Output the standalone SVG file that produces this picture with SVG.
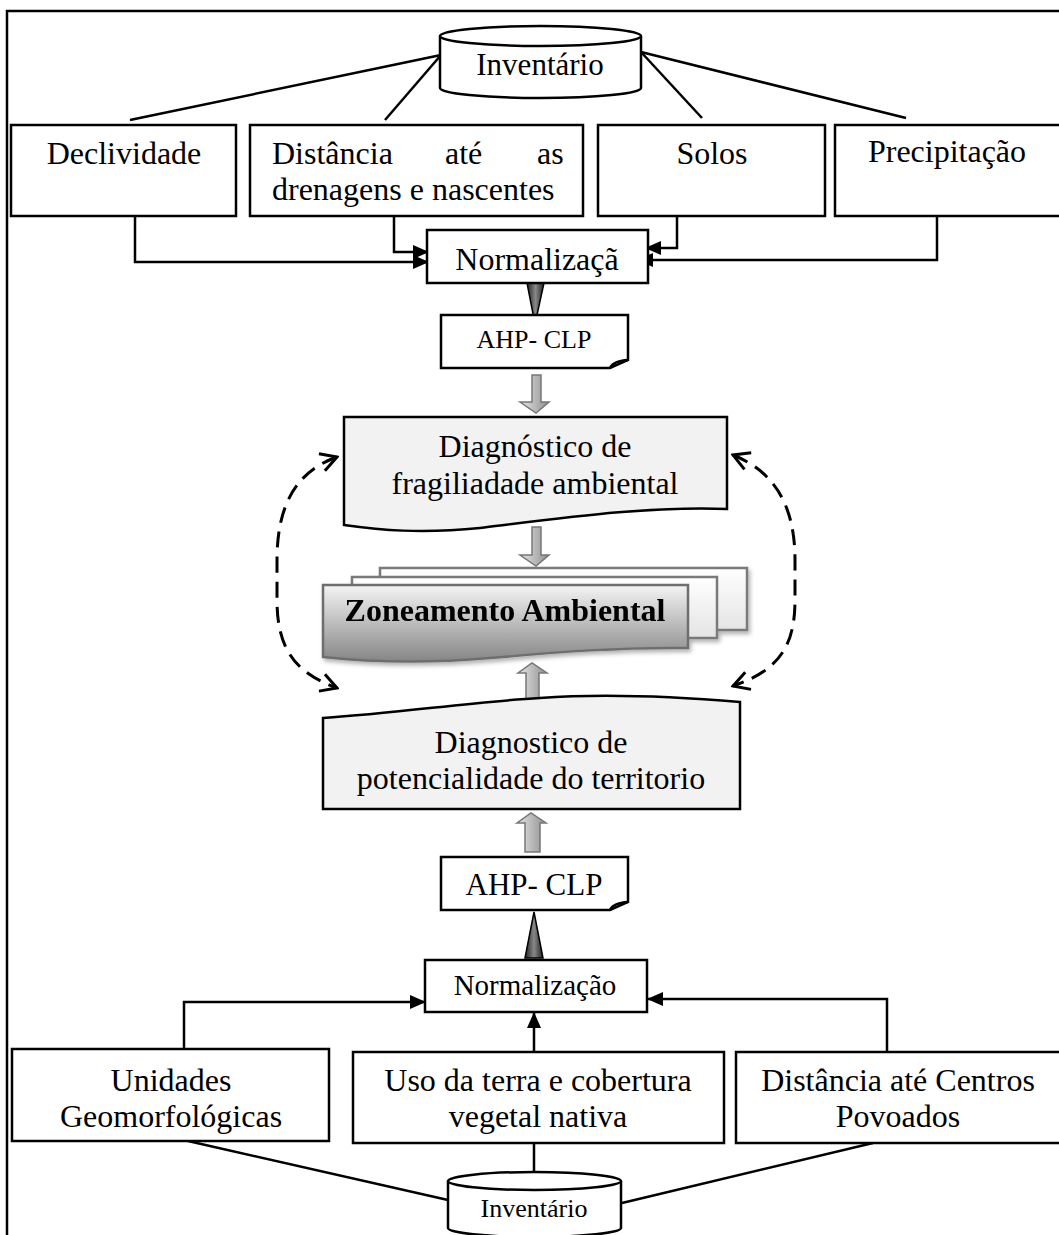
<svg xmlns="http://www.w3.org/2000/svg" width="1059" height="1235" viewBox="0 0 1059 1235">
<defs>
<style>
text{font-family:"Liberation Serif","Times New Roman",serif;fill:#000;}
.box{fill:#fff;stroke:#000;stroke-width:2.5;}
.doc{fill:#f2f2f2;stroke:#000;stroke-width:2.5;}
.ln{fill:none;stroke:#000;stroke-width:2.5;}
.con{fill:none;stroke:#000;stroke-width:2.5;marker-end:url(#arr);}
.dash{fill:none;stroke:#000;stroke-width:3;stroke-dasharray:16 9;marker-start:url(#open);marker-end:url(#open);}
.garrow{fill:url(#gGray);stroke:#777;stroke-width:1.5;}
.darrow{fill:url(#gDark);stroke:#000;stroke-width:1.5;}
.page{fill:url(#gPage);stroke:#7a7a7a;stroke-width:2.5;}
</style>
<marker id="arr" viewBox="0 0 16 14" refX="15" refY="7" markerWidth="16" markerHeight="14" markerUnits="userSpaceOnUse" orient="auto">
<path d="M0,0 L16,7 L0,14 Z" fill="#000"/>
</marker>
<marker id="open" viewBox="0 0 20 22" refX="18" refY="11" markerWidth="20" markerHeight="22" markerUnits="userSpaceOnUse" orient="auto-start-reverse">
<path d="M2,2 L18,11 L2,20" fill="none" stroke="#000" stroke-width="3"/>
</marker>
<linearGradient id="gGray" x1="0" y1="0" x2="1" y2="0">
<stop offset="0" stop-color="#e6e6e6"/><stop offset="1" stop-color="#8f8f8f"/>
</linearGradient>
<linearGradient id="gDark" x1="0" y1="0" x2="1" y2="0">
<stop offset="0" stop-color="#222"/><stop offset="0.5" stop-color="#888"/><stop offset="1" stop-color="#222"/>
</linearGradient>
<linearGradient id="gFront" x1="0" y1="0" x2="0" y2="1">
<stop offset="0" stop-color="#f4f4f4"/><stop offset="1" stop-color="#858585"/>
</linearGradient>
<linearGradient id="gPage" x1="0" y1="0" x2="0" y2="1">
<stop offset="0" stop-color="#ffffff"/><stop offset="1" stop-color="#e4e4e4"/>
</linearGradient>
<filter id="shadow" x="-5%" y="-10%" width="115%" height="130%">
<feDropShadow dx="2" dy="3" stdDeviation="2" flood-color="#000" flood-opacity="0.3"/>
</filter>
</defs>
<rect width="1059" height="1235" fill="#fff"/>
<!-- outer frame -->
<path class="ln" d="M7,1235 V11 H1062"/>

<g id="connectors">
<path class="ln" d="M441,55 L130,120"/>
<path class="ln" d="M441,55 L385,120"/>
<path class="ln" d="M641,52 L702,118"/>
<path class="ln" d="M641,52 L906,118"/>
<path class="con" d="M135,216 V262 H428"/>
<path class="con" d="M394,216 V252 H428"/>
<path class="con" d="M677,216 V248 H646"/>
<path class="con" d="M937,216 V260 H638"/>
<path class="dash" d="M337,457 C300,470 277,500 277,560 L277,600 C277,645 292,672 337,688"/>
<path class="dash" d="M733,455 C770,470 795,500 795,560 L795,600 C795,645 780,670 733,686"/>
<path class="con" d="M184,1049 V1002 H425"/>
<path class="con" d="M534,1052 V1013"/>
<path class="con" d="M887,1052 V999 H648"/>
<path class="ln" d="M188,1141 L448,1200"/>
<path class="ln" d="M534,1143 L534,1173"/>
<path class="ln" d="M873,1143 L622,1203"/>
<path class="darrow" d="M527,283 L544,283 L535,324 Z"/>
<path class="darrow" d="M525,958 L543,958 L534,912 Z"/>
<path class="garrow" d="M532,375 H541 V402 H549 L536,413 L520,402 H532 Z"/>
<path class="garrow" d="M532,527 H541 V555 H549 L536,566 L520,555 H532 Z"/>
<path class="garrow" d="M526,702 V673 H518 L532,663 L547,673 H539 V700 Z"/>
<path class="garrow" d="M525,852 V823 H517 L531,813 L546,823 H540 V852 Z"/>
</g>

<g id="inventario-top">
<path class="box" d="M440,36 V88 A100.5,10 0 0 0 641,88 V36"/>
<ellipse class="box" cx="540.5" cy="36" rx="100.5" ry="10"/>
<text x="540" y="75" font-size="31" text-anchor="middle">Inventário</text>
</g>

<g id="declividade">
<rect class="box" x="11" y="125" width="225" height="91"/>
<text x="124" y="164" font-size="32" text-anchor="middle">Declividade</text>
</g>

<g id="distancia-drenagens">
<rect class="box" x="250" y="125" width="333" height="91"/>
<text y="164" font-size="32"><tspan x="272">Distância</tspan><tspan x="445">até</tspan><tspan x="537">as</tspan></text>
<text x="272" y="200" font-size="32">drenagens e nascentes</text>
</g>

<g id="solos">
<rect class="box" x="598" y="125" width="227" height="91"/>
<text x="712" y="164" font-size="32" text-anchor="middle">Solos</text>
</g>

<g id="precipitacao">
<rect class="box" x="835" y="125" width="230" height="91"/>
<text x="947" y="162" font-size="32" text-anchor="middle">Precipitação</text>
</g>

<g id="normalizacao-top">
<rect class="box" x="427" y="230" width="221" height="53"/>
<text x="537" y="270" font-size="32" text-anchor="middle">Normalizaçã</text>
</g>

<g id="ahp-top">
<path class="box" d="M441,315 H628 V360 L610,368 H441 Z"/>
<path class="ln" d="M610,368 Q613,361 628,360" stroke-width="2"/>
<text x="534" y="348" font-size="26" text-anchor="middle">AHP- CLP</text>
</g>

<g id="diag-fragilidade">
<path class="doc" d="M344,417 H727 V509 C650,506 570,517 480,528 C420,534 380,530 344,525 Z"/>
<text x="535" y="457" font-size="32" text-anchor="middle">Diagnóstico de</text>
<text x="535" y="494" font-size="32" text-anchor="middle">fragiliadade ambiental</text>
</g>

<g id="zoneamento" filter="url(#shadow)">
<rect class="page" x="380" y="568" width="367" height="62"/>
<rect class="page" x="352" y="577" width="365" height="61"/>
<path d="M323,585 H688 V648 C620,647 560,652 490,658 C420,664 370,662 323,657 Z" fill="url(#gFront)" stroke="#6e6e6e" stroke-width="2.5"/>
<text x="505" y="621" font-size="32" font-weight="bold" text-anchor="middle">Zoneamento Ambiental</text>
</g>

<g id="diag-potencialidade">
<path class="doc" d="M323,809 V718 C400,713 470,702 540,698 C610,693 680,697 740,702 V809 Z"/>
<text x="531" y="753" font-size="32" text-anchor="middle">Diagnostico de</text>
<text x="531" y="789" font-size="32" text-anchor="middle">potencialidade do territorio</text>
</g>

<g id="ahp-bottom">
<path class="box" d="M441,857 H628 V902 L610,910 H441 Z"/>
<path class="ln" d="M610,910 Q613,903 628,902" stroke-width="2"/>
<text x="534" y="895" font-size="31" text-anchor="middle">AHP- CLP</text>
</g>

<g id="normalizacao-bottom">
<rect class="box" x="425" y="960" width="222" height="52"/>
<text x="535" y="995" font-size="29" text-anchor="middle">Normalização</text>
</g>

<g id="unidades">
<rect class="box" x="12" y="1049" width="317" height="92"/>
<text x="171" y="1091" font-size="32" text-anchor="middle">Unidades</text>
<text x="171" y="1127" font-size="32" text-anchor="middle">Geomorfológicas</text>
</g>

<g id="uso-terra">
<rect class="box" x="353" y="1052" width="371" height="91"/>
<text x="538" y="1091" font-size="32" text-anchor="middle">Uso da terra e cobertura</text>
<text x="538" y="1127" font-size="32" text-anchor="middle">vegetal nativa</text>
</g>

<g id="distancia-centros">
<rect class="box" x="736" y="1052" width="330" height="91"/>
<text x="898" y="1091" font-size="32" text-anchor="middle">Distância até Centros</text>
<text x="898" y="1127" font-size="32" text-anchor="middle">Povoados</text>
</g>

<g id="inventario-bottom">
<path class="box" d="M448,1181 V1228 A86.5,9 0 0 0 621,1228 V1181"/>
<ellipse class="box" cx="534.5" cy="1181" rx="86.5" ry="9"/>
<text x="534" y="1217" font-size="26" text-anchor="middle">Inventário</text>
</g>
</svg>
